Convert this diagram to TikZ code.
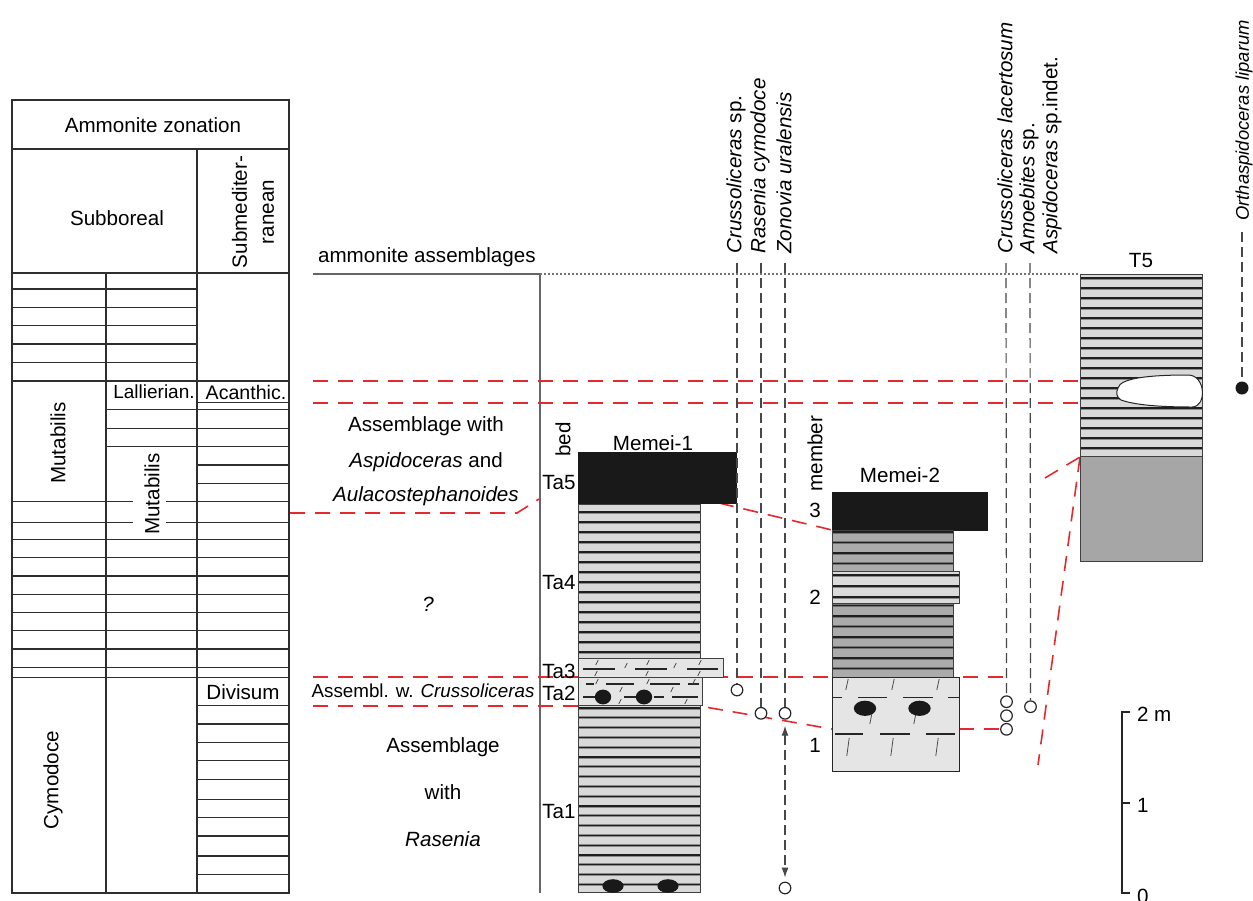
\documentclass[tikz,border=0pt]{standalone}
\usepackage{fontspec}
\setmainfont{Liberation Sans}
\usetikzlibrary{arrows.meta}
\definecolor{rd}{HTML}{E42A2F}
\begin{document}
\begin{tikzpicture}[x=0.5pt,y=-0.5pt,
 every node/.style={font=\fontsize{10.3}{13.5}\selectfont},
 tbl/.style={draw=black!82,line width=0.65pt},
 redd/.style={draw=rd,line width=0.8pt,dash pattern=on 7.5pt off 5pt},
 rng/.style={draw=black!72,line width=0.6pt,dash pattern=on 5pt off 2.5pt},
 occ/.style={circle,draw=black!85,fill=white,line width=0.6pt,inner sep=0pt,minimum size=5.8pt},
 spec/.style={rotate=90,anchor=west,inner sep=0pt},
 slashln/.style={draw=black!70,line width=0.4pt},
 marldash/.style={draw=black!85,line width=0.7pt},
 stripeback/.style={draw=black!45,line width=1.5pt},
 stripefront/.style={draw=black!88,line width=0.65pt},
 oval/.style={fill=black!90},
 boxedge/.style={draw=black!75,line width=0.5pt}
]
\useasboundingbox (0,0) rectangle (1253,900);
\fill[white] (0,0) rectangle (1253,900);

% ---------------- zonation table ----------------
\draw[tbl] (12,100) rectangle (289,893);
\foreach \y in {149,273,381,539.3,557.7,576,594.3,612.7,630.7,649,667.3,677.3}
  \draw[tbl] (12,\y) -- (289,\y);
\draw[tbl] (197,149) -- (197,893);
\draw[tbl] (106,273) -- (106,893);
\foreach \y in {289,307.3,325.7,344,362.7}
  \draw[tbl] (12,\y) -- (197,\y);
\foreach \y in {402.3,465,483.3,705.7,724,742.3,760.7,779.3,799.3,817.3,836,856,874.3}
  \draw[tbl] (197,\y) -- (289,\y);
\foreach \y in {409.3,428.3,446.7}
  \draw[tbl] (106,\y) -- (289,\y);
\foreach \y in {501.7,522.3}
  {\draw[tbl] (12,\y) -- (133,\y); \draw[tbl] (166,\y) -- (289,\y);}

\node (tz) at (153,125) {Ammonite zonation};
\node (tsb) at (117,218) {Subboreal};
\node[rotate=90,align=center] (tsm) at (253,212) {Submediter-\\ranean};
\node[font=\fontsize{9.5}{11}\selectfont] (tla) at (154,392) {Lallierian.};
\node[font=\fontsize{9.8}{11}\selectfont] (tac) at (246,392) {Acanthic.};
\node (tdi) at (243,692) {Divisum};
\node[rotate=90] (tmu1) at (58,443) {Mutabilis};
\node[rotate=90] (tmu2) at (152,494) {Mutabilis};
\node[rotate=90] (tcy) at (53,780) {Cymodoce};

% ---------------- assemblages column ----------------
\node[anchor=west] (aa) at (311,257) {ammonite assemblages};
\draw[black!60,line width=0.6pt] (313,274) -- (540,274);
\draw[black!60,line width=0.6pt] (540,274) -- (540,893);
\draw[black!55,line width=0.6pt,dash pattern=on 0.8pt off 1.2pt] (540,274) -- (1080,274);

\node (as1) at (426,426) {Assemblage with};
\node (as2) at (426,462) {\textit{Aspidoceras} and};
\node (as3) at (426,496) {\textit{Aulacostephanoides}};
\node (asq) at (428,604) {\textit{?}};
\node[font=\fontsize{9.4}{11}\selectfont] (asc) at (423,691) {Assembl. w. \textit{Crussoliceras}};
\node (ar1) at (443,747) {Assemblage};
\node (ar2) at (443,792) {with};
\node (ar3) at (443,839) {\textit{Rasenia}};

% ---------------- red correlation lines ----------------
\draw[redd] (313,381) -- (1080,381);
\draw[redd] (313,403) -- (1080,403);
\draw[redd] (290,513) -- (517,513) -- (539,499);
\draw[redd] (719,503) -- (832,530);
\draw[redd] (313,677) -- (578,677);
\draw[redd] (713,677) -- (1004,677);
\draw[redd] (313,705.7) -- (578,705.7);
\draw[redd] (708,707.5) -- (832,729);
\draw[redd] (959,729) -- (1002,729);
\draw[redd] (1045,478) -- (1080,457);
\draw[redd] (1080,457) -- (1038,765);

% ---------------- Memei-1 ----------------
\node (m1) at (653,443) {Memei-1};
\node[spec] (bed) at (563,457) {bed};
\node (ta5) at (559,483) {Ta5};
\node (ta4) at (559,583) {Ta4};
\node (ta3) at (559,671) {Ta3};
\node (ta2) at (559,693) {Ta2};
\node (ta1) at (559,812) {Ta1};

\fill[black!90] (578,452.3) rectangle (737,504);
% Ta4
\fill[black!15] (578,504) rectangle (700,658.3);
\foreach \y in {512,522,...,652} {\draw[stripeback] (578,\y) -- (700,\y); \draw[stripefront] (578,\y) -- (700,\y);}
\draw[boxedge] (578,504) rectangle (700,658.3);
% Ta1
\fill[black!15] (578,705.7) rectangle (700,892.3);
\foreach \y in {708,717.8,...,888} {\draw[stripeback] (578,\y) -- (700,\y); \draw[stripefront] (578,\y) -- (700,\y);}
\draw[boxedge] (578,705.7) rectangle (700,892.3);
\fill[oval] (613,886) ellipse [x radius=5.3pt,y radius=3.4pt];
\fill[oval] (668,886) ellipse [x radius=5.3pt,y radius=3.4pt];
% Ta3
\filldraw[fill=black!10,boxedge] (578,658.3) rectangle (723,677);
\foreach \a/\b in {583/615,635/667,687/718} \draw[marldash] (\a,669) -- (\b,669);
\foreach \x in {597,648,700} \draw[slashln] (\x-1.2,665) -- (\x+1.2,660);
\foreach \x in {626,675} \draw[slashln] (\x-1.2,668) -- (\x+1.2,663);
\foreach \x in {596,647,699} \draw[slashln] (\x-1.2,676) -- (\x+1.2,671);
% Ta2
\filldraw[fill=black!10,boxedge] (578,677) rectangle (702,705.7);
\foreach \a/\b in {586/594,606/634,650/680,688/699} \draw[marldash] (\a,684) -- (\b,684);
\foreach \a/\b in {583/598,624/640,654/664,672/698} \draw[marldash] (\a,697) -- (\b,697);
\foreach \x in {597,648,694} \draw[slashln] (\x-1.2,684) -- (\x+1.2,679);
\foreach \x in {621,672} \draw[slashln] (\x-1.2,692) -- (\x+1.2,687);
\foreach \x in {620,686} \draw[slashln] (\x-1.2,704) -- (\x+1.2,699);
\fill[oval] (603,697) ellipse [x radius=4.1pt,y radius=3.7pt];
\fill[oval] (644,697) ellipse [x radius=4.1pt,y radius=3.7pt];

% ---------------- Memei-2 ----------------
\node (m2) at (900,475) {Memei-2};
\node[spec] (mem) at (815,492) {member};
\node (mb3) at (815,510) {3};
\node (mb2) at (815,597) {2};
\node (mb1) at (815,745) {1};

\fill[black!90] (832,492.3) rectangle (988,530.7);
\fill[black!33] (832,530.7) rectangle (953,677);
\foreach \y in {532,542.5,...,672} {\draw[stripeback,draw=black!55] (832,\y) -- (953,\y); \draw[stripefront] (832,\y) -- (953,\y);}
\draw[boxedge] (832,530.7) rectangle (953,677);
\fill[black!14] (832,571) rectangle (959,603.3);
\foreach \y in {575,586,597} {\draw[stripeback] (832,\y) -- (959,\y); \draw[stripefront] (832,\y) -- (959,\y);}
\draw[boxedge] (832,571) rectangle (959,603.3);
% member 1
\filldraw[fill=black!10,boxedge,draw=black!85] (832,677) rectangle (959,771);
\foreach \a/\b in {833/842,858/887,903/933,948/959} \draw[marldash] (\a,697.3) -- (\b,697.3);
\foreach \a/\b in {835/863,880/910,926/955} \draw[marldash] (\a,734) -- (\b,734);
\foreach \x in {847,893,938} \draw[slashln] (\x-1.2,690) -- (\x+1.2,679);
\foreach \x in {871,915} \draw[slashln] (\x-1.2,724) -- (\x+1.2,712);
\foreach \x in {848,892,937} \draw[slashln] (\x-1.2,756) -- (\x+1.2,738);
\fill[oval] (865,708.3) ellipse [x radius=5.6pt,y radius=3.8pt];
\fill[oval] (919.5,708.3) ellipse [x radius=5.6pt,y radius=3.8pt];

% ---------------- T5 ----------------
\node (t5) at (1141,261) {T5};
\fill[black!15] (1080,274) rectangle (1202,456);
\foreach \y in {278,288,...,448} {\draw[stripeback] (1080,\y) -- (1202,\y); \draw[stripefront] (1080,\y) -- (1202,\y);}
\draw[stripefront] (1080,274.5) -- (1202,274.5);
\filldraw[fill=black!35,draw=black!75,line width=0.5pt] (1080,456) rectangle (1202,561);
\draw[boxedge] (1080,274) rectangle (1202,456);
\filldraw[fill=white,draw=black!85,line width=0.5pt]
  (1118,388) .. controls (1120,378) and (1150,375) .. (1188,375)
  .. controls (1206,375) and (1207,407) .. (1192,407)
  .. controls (1160,407) and (1135,405) .. (1121,400)
  .. controls (1116,397) and (1116,392) .. (1118,388) -- cycle;

% ---------------- ammonite ranges ----------------
\node[spec] (s1) at (736,254) {\textit{Crussoliceras} sp.};
\node[spec] (s2) at (760,254) {\textit{Rasenia cymodoce}};
\node[spec] (s3) at (784,254) {\textit{Zonovia uralensis}};
\node[spec] (s4) at (1005,254) {\textit{Crussoliceras lacertosum}};
\node[spec] (s5) at (1029,254) {\textit{Amoebites} sp.};
\node[spec] (s6) at (1052,254) {\textit{Aspidoceras} sp.indet.};
\node[spec,font=\fontsize{9.2}{11}\selectfont] (s7) at (1244,221) {\textit{Orthaspidoceras liparum}};

\coordinate (r1) at (737,263);
\coordinate (r2) at (761,263);
\coordinate (r3) at (785,263);
\coordinate (r4) at (1006,263);
\coordinate (r5) at (1030,263);
\coordinate (r7) at (1242,232);

\node[occ] (o1) at (737,690) {};
\node[occ] (o2) at (761,713.3) {};
\node[occ] (o3) at (785,713.3) {};
\node[occ] (o3b) at (785,888) {};
\node[occ] (o4a) at (1006.5,701.7) {};
\node[occ] (o4b) at (1006.5,715.7) {};
\node[occ] (o4c) at (1006.5,729.3) {};
\node[occ] (o5) at (1030.5,706.7) {};
\node[circle,fill=black!90,inner sep=0pt,minimum size=6.5pt] (o7) at (1242,388) {};

\draw[rng] (r1) -- (o1.north);
\draw[rng] (r2) -- (o2.north);
\draw[rng] (r3) -- (o3.north);
\draw[rng] (r4) -- (o4a.north);
\draw[rng] (r5) -- (o5.north);
\draw[rng] (r7) -- (o7.north);
\draw[rng,{Latex[length=5pt,width=3.5pt]}-{Latex[length=5pt,width=3.5pt]}]
  ([yshift=-3pt]o3.south) -- ([yshift=2pt]o3b.north);

% ---------------- scale bar ----------------
\draw[black!85,line width=0.8pt] (1130,712) -- (1122,712) -- (1122,893) -- (1130,893);
\draw[black!85,line width=0.8pt] (1122,803) -- (1130,803);
\node[anchor=west] (sc2) at (1130,714) {2 m};
\node[anchor=west] (sc1) at (1130,805) {1};
\node[anchor=west] (sc0) at (1130,896) {0};
\end{tikzpicture}
\end{document}
